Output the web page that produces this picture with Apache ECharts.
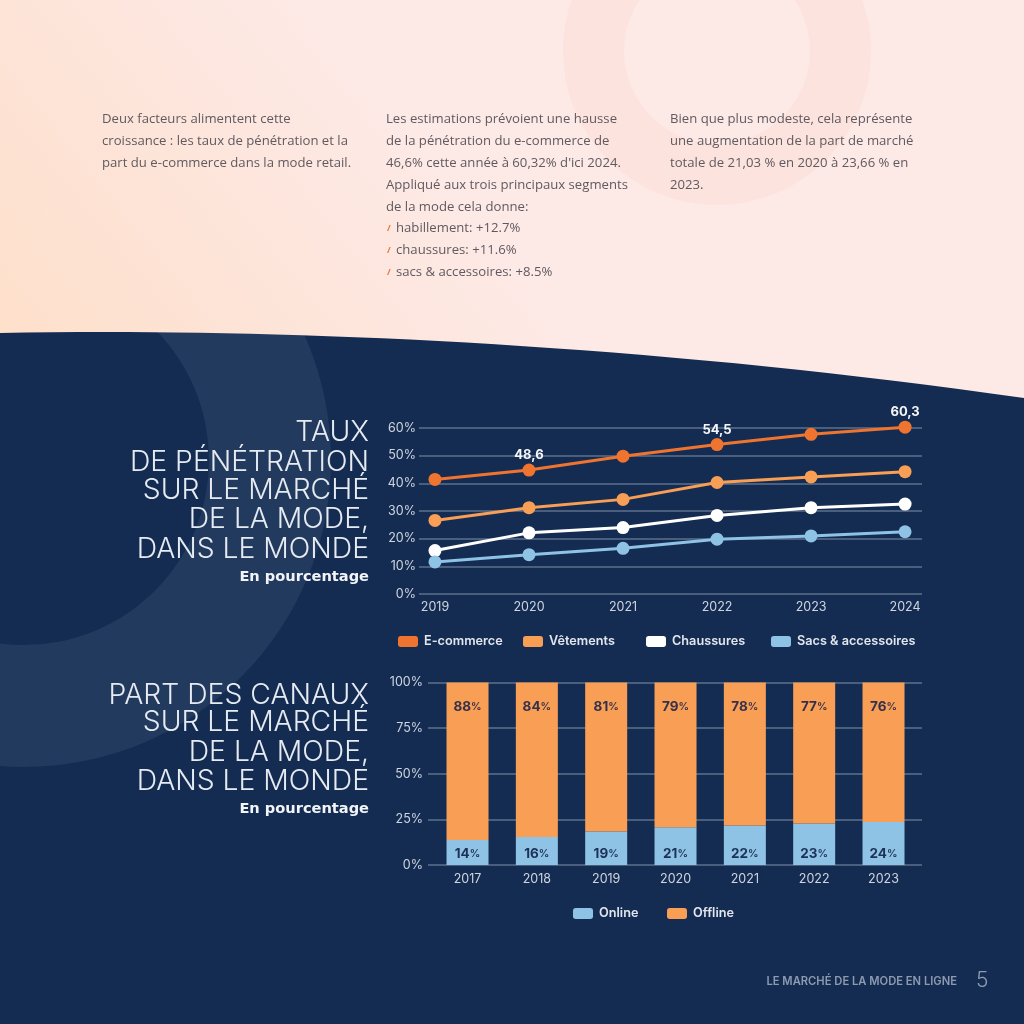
<!DOCTYPE html>
<html>
<head>
<meta charset="utf-8">
<style>
html,body{margin:0;padding:0;background:#142c52;}
#main{width:1024px;height:1024px;}
</style>
<script src="https://cdn.jsdelivr.net/npm/echarts@6/dist/echarts.min.js"></script>
</head>
<body>
<div id="main"></div>
<script>
// line chart
var lineYears = [2019,2020,2021,2022,2023,2024];
var ecommerce = [41.4,44.8,49.8,54,57.7,60.3];
var vetements = [26.6,31.2,34.2,40.3,42.3,44.2];
var chaussures = [15.7,22.1,24,28.4,31.2,32.5];
var sacs = [11.6,14.2,16.5,19.8,21,22.5];
var ecommerceLabels = ['','48,6','','54,5','','60,3'];

// bar chart
var barYears = [2017,2018,2019,2020,2021,2022,2023];
var online = [13.7,15.4,18.3,20.7,21.6,22.7,23.6];
var offline = [86.3,84.6,81.7,79.3,78.4,77.3,76.4];
var onlineLabels = [14,16,19,21,22,23,24];
var offlineLabels = [88,84,81,79,78,77,76];

// page texts
var col1 = ['Deux facteurs alimentent cette','croissance : les taux de pénétration et la','part du e-commerce dans la mode retail.'];
var col2 = ['Les estimations prévoient une hausse','de la pénétration du e-commerce de','46,6% cette année à 60,32% d\'ici 2024.','Appliqué aux trois principaux segments','de la mode cela donne:'];
var bullets = ['habillement: +12.7%','chaussures: +11.6%','sacs & accessoires: +8.5%'];
var col3 = ['Bien que plus modeste, cela représente','une augmentation de la part de marché','totale de 21,03 % en 2020 à 23,66 % en','2023.'];
var title1 = ['TAUX','DE PÉNÉTRATION','SUR LE MARCHÉ','DE LA MODE,','DANS LE MONDE'];
var title2 = ['PART DES CANAUX','SUR LE MARCHÉ','DE LA MODE,','DANS LE MONDE'];

var FONT = 'Inter, "Noto Sans", sans-serif';
var BODY = '"Open Sans", Lato, sans-serif';
var WIDE = '"DejaVu Sans", Inter, sans-serif';
var NAVY = '#142c52', GRID = '#5d6f8d', AXIS = '#ced5df';
var ORANGE = '#ee7430', PEACH = '#f89e55', BLUE = '#8fc3e5';

// the pink top of the page, its lower edge is the wave
echarts.graphic.registerShape('pinkTop',echarts.graphic.extendShape({
	buildPath:function(ctx){
		ctx.moveTo(0,0);
		ctx.lineTo(1024,0);
		ctx.lineTo(1024,398);
		ctx.bezierCurveTo(620,340,250,328,0,333);
		ctx.closePath();
	}
}));

function txt(x,y,s,size,color,align,weight,font){
	return {
		type:'text',x:x,y:y,z:-1,silent:true,
		style:{text:s,fontSize:size,fill:color,align:align||'left',verticalAlign:'middle',fontWeight:weight||400,fontFamily:font||BODY}
	};
}

var graphics = [
	{type:'rect',z:-10,silent:true,shape:{x:0,y:0,width:1024,height:1024},style:{fill:NAVY}},
	// ring behind the navy block, cut off by the pink part drawn after it
	{type:'ring',z:-9,silent:true,shape:{cx:24,cy:460,r:307,r0:185},style:{fill:'#233a5f'}},
	{type:'pinkTop',z:-8,silent:true,
		style:{fill:new echarts.graphic.LinearGradient(0,0.95,0.36,0.2,[{offset:0,color:'#fedfc9'},{offset:1,color:'#fde9e6'}])}},
	{type:'ring',z:-7,silent:true,shape:{cx:717,cy:51,r:154,r0:93},style:{fill:'#fde3dd'}}
];
var lineY = [119,141,163,185,207];
col1.forEach(function(s,i){graphics.push(txt(102,lineY[i],s,13.15,'#5f5a60'));});
col2.forEach(function(s,i){graphics.push(txt(386,lineY[i],s,13.15,'#5f5a60'));});
col3.forEach(function(s,i){graphics.push(txt(670,lineY[i],s,13.15,'#5f5a60'));});
var bulletY = [228,250,272];
bullets.forEach(function(s,i){
	graphics.push(txt(387,bulletY[i],'/',9,ORANGE,'left',700));
	graphics.push(txt(396,bulletY[i],s,13.15,'#5f5a60'));
});
var t1Y = [432,462,490,519,549];
title1.forEach(function(s,i){graphics.push(txt(369,t1Y[i],s,28.3,'#e6ebf2','right',300,FONT));});
graphics.push(txt(369,577,'En pourcentage',14.6,'#f2f4f7','right',700,WIDE));
var t2Y = [695,722,752,781];
title2.forEach(function(s,i){graphics.push(txt(369,t2Y[i],s,28.3,'#e6ebf2','right',300,FONT));});
graphics.push(txt(369,809,'En pourcentage',14.6,'#f2f4f7','right',700,WIDE));
graphics.push(txt(957,982,'LE MARCHÉ DE LA MODE EN LIGNE',11.2,'#8d9ab0','right',600,FONT));
graphics.push(txt(976,981,'5',21,'#8d9ab0','left',300,FONT));

function lineSeries(name,values,color){
	return {
		name:name,type:'line',xAxisIndex:0,yAxisIndex:0,
		data:values.map(function(v,i){return [lineYears[i],v];}),
		clip:false,symbol:'circle',symbolSize:13,
		lineStyle:{width:3,color:color},itemStyle:{color:color}
	};
}
function barLabel(texts,color,position,distance){
	return {
		show:true,position:position,distance:distance,
		formatter:function(p){return '{n|'+texts[p.dataIndex]+'}{p|%}';},
		rich:{
			n:{fontSize:13.5,fontWeight:700,color:color,fontFamily:FONT},
			p:{fontSize:10.5,fontWeight:600,color:color,fontFamily:FONT}
		}
	};
}
function legendItem(name,left,top){
	return {
		data:[name],left:left,top:top,icon:'roundRect',itemWidth:20,itemHeight:11,itemGap:0,padding:0,
		textStyle:{color:'#e2e6ed',fontSize:12.7,fontWeight:600,fontFamily:FONT,padding:[0,0,0,1]}
	};
}
// value first so that the stack runs along y, the x axis stays a plain value axis
function barSeries(name,values,color,label){
	return {
		name:name,type:'bar',xAxisIndex:1,yAxisIndex:1,stack:'canaux',barWidth:42,
		encode:{x:1,y:0},
		data:values.map(function(v,i){return [v,barYears[i]];}),
		itemStyle:{color:color},
		label:label
	};
}

var lineSer = lineSeries('E-commerce',ecommerce,ORANGE);
lineSer.label = {
	show:true,position:'top',distance:2,color:'#f4f6f8',fontSize:13,fontWeight:700,fontFamily:FONT,
	formatter:function(p){return ecommerceLabels[p.dataIndex];}
};

var option = {
	animation:false,
	backgroundColor:'transparent',
	graphic:{elements:graphics},
	legend:[
		legendItem('E-commerce',398,635),
		legendItem('Vêtements',523,635),
		legendItem('Chaussures',646,635),
		legendItem('Sacs & accessoires',771,635),
		legendItem('Online',573,907),
		legendItem('Offline',667,907)
	],
	grid:[
		{left:419,right:102,top:428,height:166},
		{left:428,right:102,top:682.5,height:182.5}
	],
	xAxis:[
		{
			type:'value',gridIndex:0,min:2018.83,max:2024.18,
			splitLine:{show:false},axisTick:{show:false},
			axisLine:{show:false},
			axisLabel:{color:AXIS,fontSize:12.5,fontFamily:FONT,margin:7,customValues:lineYears,formatter:function(v){return String(v);}}
		},
		{
			type:'value',gridIndex:1,min:2016.43,max:2023.555,
			splitLine:{show:false},axisTick:{show:false},
			axisLine:{show:false},
			axisLabel:{color:AXIS,fontSize:12.5,fontFamily:FONT,margin:8,customValues:barYears,formatter:function(v){return String(v);}}
		}
	],
	yAxis:[
		{
			type:'value',gridIndex:0,min:0,max:60,interval:10,
			axisLine:{show:false},axisTick:{show:false},
			splitLine:{lineStyle:{color:GRID,width:1.5}},
			axisLabel:{color:AXIS,fontSize:12.5,fontFamily:FONT,margin:3,formatter:'{value}%'}
		},
		{
			type:'value',gridIndex:1,min:0,max:100,interval:25,
			axisLine:{show:false},axisTick:{show:false},
			splitLine:{lineStyle:{color:GRID,width:1.5}},
			axisLabel:{color:AXIS,fontSize:12.5,fontFamily:FONT,margin:5,formatter:'{value}%'}
		}
	],
	series:[
		lineSer,
		lineSeries('Vêtements',vetements,PEACH),
		lineSeries('Chaussures',chaussures,'#ffffff'),
		lineSeries('Sacs & accessoires',sacs,BLUE),
		barSeries('Online',online,BLUE,barLabel(onlineLabels,'#1d3156','insideBottom',4)),
		barSeries('Offline',offline,PEACH,barLabel(offlineLabels,'#37304a','insideTop',17))
	]
};

var myChart = echarts.init(document.getElementById('main'));
myChart.setOption(option);
</script>
</body>
</html>
